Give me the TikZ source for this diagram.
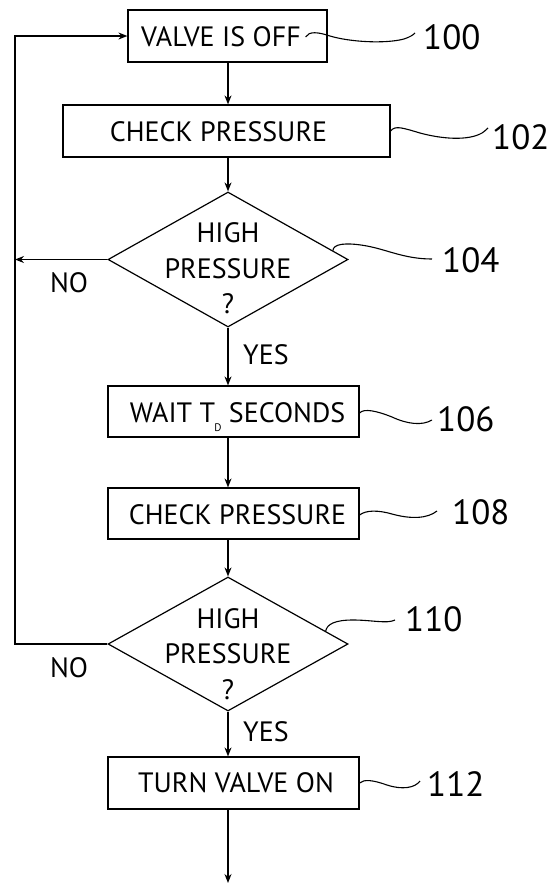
\documentclass[tikz,border=0pt]{standalone}
\usepackage{fontspec}
\setmainfont{PT Sans}
\usetikzlibrary{shapes.geometric,arrows.meta,calc}
\tikzset{
  stepbox/.style={draw, line width=1.2pt, inner sep=0pt, minimum height=52pt},
  decide/.style={draw, diamond, line width=1.2pt, inner sep=0pt, minimum width=240pt, minimum height=135pt},
  txt/.style={font=\fontsize{28}{35.5}\selectfont, inner sep=0pt, align=center},
  num/.style={font=\fontsize{35}{35}\selectfont, inner sep=0pt, anchor=west},
  flow/.style={line width=1.2pt, -{Stealth[length=9pt,width=7pt]}},
  lead/.style={line width=1.1pt},
}
\begin{document}
\begin{tikzpicture}[x=1pt,y=-1pt]
\useasboundingbox (0,0) rectangle (558,884);
\fill[white] (0,0) rectangle (558,884);

% boxes and decisions
\node[stepbox, minimum width=199pt] (b100) at (227.5,36) {};
\node[stepbox, minimum width=327pt] (b102) at (226.5,131) {};
\node[decide] (d104) at (228,259.5) {};
\node[stepbox, minimum width=251pt, minimum height=51pt] (b106) at (233.5,411.5) {};
\node[stepbox, minimum width=251pt, minimum height=51pt] (b108) at (233.5,513.5) {};
\node[decide, minimum height=134pt] (d110) at (228,644) {};
\node[stepbox, minimum width=251pt] (b112) at (233.5,783) {};

% texts
\node[txt] (t100) at (221,36.5) {VALVE IS OFF};
\node[txt] (t102) at (218.5,132) {CHECK PRESSURE};
\node[txt] (td104) at (228,268.5) {HIGH\\PRESSURE\\?};
\node[txt] (t106) at (237.5,413) {WAIT T\kern-1pt{\fontsize{11}{11}\selectfont\smash{\raisebox{-9pt}{D}}}\ SECONDS};
\node[txt] (t108) at (237.5,515) {CHECK PRESSURE};
\node[txt] (td110) at (228,654) {HIGH\\PRESSURE\\?};
\node[txt] (t112) at (236,783) {TURN VALVE ON};

\node[txt] (no1) at (69,283) {NO};
\node[txt, anchor=west] (yes1) at (243,355) {YES};
\node[txt] (no2) at (69,668) {NO};
\node[txt, anchor=west] (yes2) at (243,732) {YES};

% reference numbers
\node[num] (l100) at (423,37) {100};
\node[num] (l102) at (492,137) {102};
\node[num] (l104) at (442,260) {104};
\node[num] (l106) at (437,419) {106};
\node[num] (l108) at (452,512) {108};
\node[num] (l110) at (405,619) {110};
\node[num] (l112) at (427,784) {112};

% helper coordinates
\coordinate (cx) at (228,0);
\coordinate (lx) at (15,0);
\coordinate (end) at (228,883);

% flow connectors
\draw[flow] (cx |- b100.south) -- (cx |- b102.north);
\draw[flow] (cx |- b102.south) -- (d104.north);
\draw[flow] (d104.south) -- (cx |- b106.north);
\draw[flow] (cx |- b106.south) -- (cx |- b108.north);
\draw[flow] (cx |- b108.south) -- (d110.north);
\draw[flow] (d110.south) -- (cx |- b112.north);
\draw[flow] (cx |- b112.south) -- (end);
\draw[flow] (d104.west) -- (d104.west -| lx);
\draw[flow] (d110.west) -- (d110.west -| lx) |- (b100.west);

% leader lines
\draw[lead] ($(b100.east)+(-22,1)$) .. controls (309,31) and (318,32) .. (330,36)
  .. controls (350,42) and (385,44) .. (404,39)
  .. controls (410,37) and (413,35) .. ($(l100.west)+(-8,-4)$);
\draw[lead] (b102.east) .. controls (395,125) and (403,128) .. (420,133)
  .. controls (442,139) and (468,141) .. (482,133)
  .. controls (485,131) and (487,129) .. ($(l102.west)+(-4,-9)$);
\draw[lead] ($(d104.east)!0.13!(d104.north)$) .. controls (333,244) and (345,242) .. (367,246)
  .. controls (388,250) and (405,259) .. ($(l104.west)+(-10,-1)$);
\draw[lead] ($(b106.east)+(0,1.5)$) .. controls (364,408) and (377,411) .. (392,417)
  .. controls (407,424) and (422,426) .. ($(l106.west)+(-5,1)$);
\draw[lead] ($(b108.east)+(0,1.5)$) .. controls (366,510) and (378,510) .. (392,514)
  .. controls (410,519) and (427,519) .. ($(l108.west)+(-15,-1)$);
\draw[lead] ($(d110.east)!0.19!(d110.north)$) .. controls (327,624) and (335,620) .. (353,620)
  .. controls (372,620) and (387,624) .. ($(l110.west)+(-10,1)$);
\draw[lead] (b112.east) .. controls (364,779) and (373,780) .. (387,785)
  .. controls (402,790) and (415,788) .. ($(l112.west)+(-7,-3)$);
\end{tikzpicture}
\end{document}
